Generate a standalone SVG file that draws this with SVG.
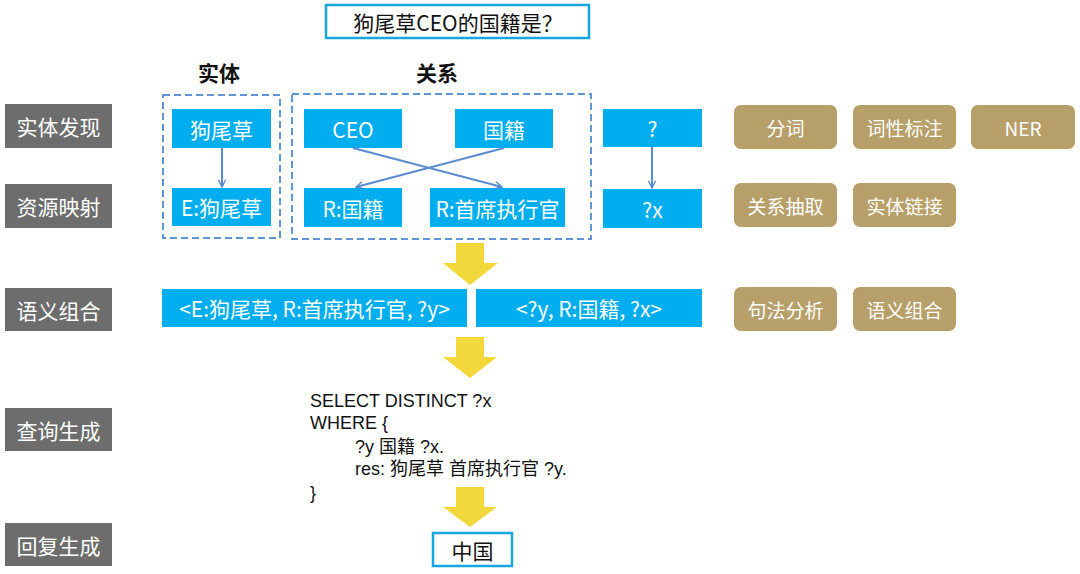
<svg xmlns="http://www.w3.org/2000/svg" width="1080" height="574" viewBox="0 0 1080 574">
<defs>
<style>
text{font-family:"Noto Sans CJK SC","Liberation Sans",sans-serif;}
.lab rect{fill:#6d6d6d;}
.lab text{fill:#fff;font-size:21px;text-anchor:middle;dominant-baseline:central;}
.bl rect{fill:#00aeef;}
.bl text{fill:#fff;font-size:21px;text-anchor:middle;dominant-baseline:central;}
.gd rect{fill:#b79f6a;}
.gd text{fill:#fff;font-size:19px;text-anchor:middle;dominant-baseline:central;}
.dash{fill:none;stroke:#5f95d4;stroke-width:2;stroke-dasharray:7 4;}
.con{stroke:#5b8bd0;stroke-width:2;fill:none;}
.ya{fill:#f2d83a;}
.hd{font-size:21px;font-weight:bold;fill:#111;text-anchor:middle;dominant-baseline:central;}
.sq text{font-family:"Liberation Sans","Noto Sans CJK SC",sans-serif;font-size:18px;fill:#111;}
.bx{fill:#fff;stroke:#19a6e0;stroke-width:2.5;}
.bxt{font-size:21px;fill:#111;text-anchor:middle;dominant-baseline:central;}
</style>
<marker id="ar" viewBox="0 0 10 10" refX="9" refY="5" markerWidth="9" markerHeight="9" markerUnits="userSpaceOnUse" orient="auto">
<path d="M1,1 L9,5 L1,9" fill="none" stroke="#5b8bd0" stroke-width="1.6"/>
</marker>
</defs>
<rect width="1080" height="574" fill="#fff"/>

<g id="title"><rect class="bx" x="326" y="5" width="263" height="33"/><text class="bxt" x="458" y="22">狗尾草CEO的国籍是？</text></g>

<text class="hd" x="219" y="72">实体</text>
<text class="hd" x="437" y="72">关系</text>

<g id="stage-labels" class="lab">
<g id="l1"><rect x="5" y="104" width="107" height="44"/><text x="58.5" y="126">实体发现</text></g>
<g id="l2"><rect x="5" y="184" width="107" height="44"/><text x="58.5" y="206">资源映射</text></g>
<g id="l3"><rect x="5" y="288" width="107" height="43"/><text x="58.5" y="309.5">语义组合</text></g>
<g id="l4"><rect x="5" y="408" width="107" height="43"/><text x="58.5" y="429.5">查询生成</text></g>
<g id="l5"><rect x="5" y="523" width="107" height="43"/><text x="58.5" y="544.5">回复生成</text></g>
</g>

<rect id="grp-entity" class="dash" x="163" y="95" width="117" height="143"/>
<rect id="grp-relation" class="dash" x="292" y="94" width="299" height="145"/>

<g class="bl">
<g id="n-gwc"><rect x="172" y="109" width="99" height="39"/><text x="221.5" y="128.5">狗尾草</text></g>
<g id="n-egwc"><rect x="172" y="188" width="99" height="38"/><text x="221.5" y="207">E:狗尾草</text></g>
<g id="n-ceo"><rect x="304" y="109" width="98" height="39"/><text x="353" y="128.5">CEO</text></g>
<g id="n-gj"><rect x="455" y="109" width="98" height="39"/><text x="504" y="128.5">国籍</text></g>
<g id="n-rgj"><rect x="304" y="188" width="98" height="39"/><text x="353" y="207.5">R:国籍</text></g>
<g id="n-rceo"><rect x="430" y="188" width="135" height="39"/><text x="497.5" y="207.5">R:首席执行官</text></g>
<g id="n-q"><rect x="603" y="109" width="99" height="38"/><text x="652.5" y="128">?</text></g>
<g id="n-qx"><rect x="603" y="189" width="99" height="39"/><text x="652.5" y="208.5">?x</text></g>
<g id="n-t1"><rect x="162" y="289" width="305" height="38"/><text x="314.5" y="308">&lt;E:狗尾草, R:首席执行官, ?y&gt;</text></g>
<g id="n-t2"><rect x="476" y="289" width="226" height="38"/><text x="589" y="308">&lt;?y, R:国籍, ?x&gt;</text></g>
</g>

<g class="gd">
<g id="t-fc"><rect x="734" y="105" width="103" height="44" rx="7"/><text x="785.5" y="127">分词</text></g>
<g id="t-cx"><rect x="853" y="105" width="103" height="44" rx="7"/><text x="904.5" y="127">词性标注</text></g>
<g id="t-ner"><rect x="971" y="105" width="104" height="44" rx="7"/><text x="1023" y="127">NER</text></g>
<g id="t-gx"><rect x="734" y="183" width="103" height="44" rx="7"/><text x="785.5" y="205">关系抽取</text></g>
<g id="t-lj"><rect x="853" y="183" width="103" height="44" rx="7"/><text x="904.5" y="205">实体链接</text></g>
<g id="t-jf"><rect x="734" y="287" width="103" height="44" rx="7"/><text x="785.5" y="309">句法分析</text></g>
<g id="t-yy"><rect x="853" y="287" width="103" height="44" rx="7"/><text x="904.5" y="309">语义组合</text></g>
</g>

<g id="connectors">
<line class="con" x1="222" y1="148" x2="222" y2="187" marker-end="url(#ar)"/>
<line class="con" x1="353" y1="148" x2="502" y2="187" marker-end="url(#ar)"/>
<line class="con" x1="504" y1="148" x2="356" y2="187" marker-end="url(#ar)"/>
<line class="con" x1="652" y1="147" x2="652" y2="188" marker-end="url(#ar)"/>
<polygon class="ya" points="456,243 484,243 484,263 498,263 470,285 443,263 456,263"/>
<polygon class="ya" points="456,337 484,337 484,357 497,357 470,378 443,357 456,357"/>
<polygon class="ya" points="456,487 484,487 484,507 497,507 470,527 443,507 456,507"/>
</g>

<g id="sparql" class="sq">
<text x="310" y="407">SELECT DISTINCT ?x</text>
<text x="310" y="429">WHERE {</text>
<text x="355" y="453">?y 国籍 ?x.</text>
<text x="355" y="475">res: 狗尾草 首席执行官 ?y.</text>
<text x="310" y="499">}</text>
</g>

<g id="answer"><rect class="bx" x="433" y="533" width="79" height="33"/><text class="bxt" x="472.5" y="550">中国</text></g>
</svg>
